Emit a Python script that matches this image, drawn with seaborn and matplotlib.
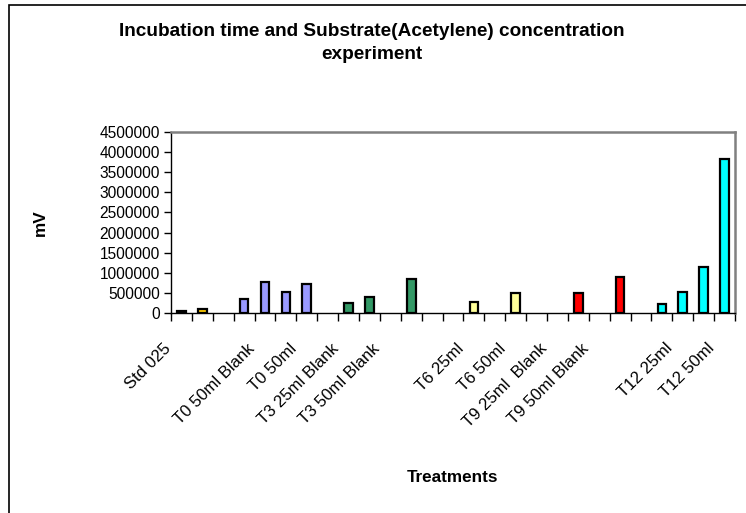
import numpy as np
import pandas as pd
import matplotlib
matplotlib.use("Agg")
import matplotlib.pyplot as plt
import matplotlib.transforms as mtransforms
from matplotlib.patches import Rectangle
import seaborn as sns

# Category order as on the sheet (gaps are empty spreadsheet columns)
categories = ["Std 025", "Std 05", " ",
              "T0 25ml Blank", "T0 50ml Blank", "T0 25ml", "T0 50ml", "  ",
              "T3 25ml Blank", "T3 25ml", "T3 50ml Blank", "T3 50ml", "   ",
              "T6 25ml Blank", "T6 25ml", "T6 50ml Blank", "T6 50ml", "    ",
              "T9 25ml  Blank", "T9 25ml", "T9 50ml Blank", "T9 50ml", "     ",
              "T12 25ml Blank", "T12 25ml", "T12 50ml Blank", "T12 50ml"]
groups = ["Std", "Std05", "gap",
          "T0", "T0", "T0", "T0", "gap",
          "T3", "T3", "T3", "T3", "gap",
          "T6", "T6", "T6", "T6", "gap",
          "T9", "T9", "T9", "T9", "gap",
          "T12", "T12", "T12", "T12"]
values = [50000, 110000, np.nan,
          360000, 775000, 530000, 725000, np.nan,
          250000, 395000, np.nan, 850000, np.nan,
          np.nan, 275000, np.nan, 500000, np.nan,
          np.nan, 500000, np.nan, 905000, np.nan,
          215000, 525000, 1150000, 3840000]
# only every second category gets a label (Excel skipped the rest)
shown_labels = ["Std 025", "", "T0 50ml Blank", "T0 50ml", "T3 25ml Blank",
                "T3 50ml Blank", "", "T6 25ml", "T6 50ml", "T9 25ml  Blank",
                "T9 50ml Blank", "", "T12 25ml", "T12 50ml"]
yticks = [0, 500000, 1000000, 1500000, 2000000, 2500000, 3000000,
          3500000, 4000000, 4500000]

palette = {"Std": "#000000", "Std05": "#FFCC00", "gap": "#FFFFFF",
           "T0": "#9999FF", "T3": "#339966", "T6": "#FFFF99",
           "T9": "#FF0000", "T12": "#00FFFF"}

df = pd.DataFrame({"treatment": categories, "group": groups, "mV": values})

sns.set_theme(style="white")
plt.rcParams["font.family"] = ["Liberation Sans", "DejaVu Sans"]
for key in ["text.color", "axes.labelcolor", "xtick.color", "ytick.color"]:
    plt.rcParams[key] = "black"

fig = plt.figure(figsize=(7.46, 5.13), dpi=100)
ax = fig.add_axes([171 / 746, 1 - 313 / 513, 564 / 746, 181 / 513])

sns.barplot(data=df, x="treatment", y="mV", hue="group", order=categories,
            palette=palette, dodge=False, width=0.42, legend=False,
            saturation=1, edgecolor="black", linewidth=1.6, ax=ax)

ax.set_xlim(-0.5, len(categories) - 0.5)
ax.set_ylim(0, 4500000)
ax.set_yticks(yticks)
ax.set_yticklabels([str(v) for v in yticks], fontsize=11.2)

# tick marks between categories, labels on every other category
ax.set_xticks(np.arange(len(categories) + 1) - 0.5)
ax.set_xticklabels([])
ax.set_xticks(np.arange(0, len(categories), 2), minor=True)
ax.set_xticklabels(shown_labels, minor=True, rotation=45, ha="right",
                   rotation_mode="anchor", fontsize=12)
ax.tick_params(axis="x", which="major", direction="out", length=6,
               width=1, color="black", bottom=True)
ax.tick_params(axis="x", which="minor", length=0, pad=20)
ax.tick_params(axis="y", direction="out", length=5, width=1,
               color="black", left=True, pad=3)
shift = mtransforms.ScaledTranslation(-18 / 100, 0, fig.dpi_scale_trans)
for lbl in ax.get_xticklabels(minor=True):
    lbl.set_transform(lbl.get_transform() + shift)

for side in ["left", "bottom"]:
    ax.spines[side].set_color("black")
    ax.spines[side].set_linewidth(1.0)
for side in ["top", "right"]:
    ax.spines[side].set_color("#808080")
    ax.spines[side].set_linewidth(1.8)

ax.set_xlabel("Treatments", fontsize=12.3, fontweight="bold")
ax.xaxis.set_label_coords(0.5, -0.865)
ax.set_ylabel("mV", fontsize=12.3, fontweight="bold")
ax.yaxis.set_label_coords(-0.218, 0.5)

fig.text(372 / 746, 1 - 43 / 513,
         "Incubation time and Substrate(Acetylene) concentration\nexperiment",
         ha="center", va="center", fontsize=13.7, fontweight="bold",
         linespacing=1.45)

# chart area border (right and bottom edges fall outside the image)
fig.patches.append(Rectangle((9 / 746, -0.05), 1.1, 1 - 5 / 513 + 0.05,
                             transform=fig.transFigure, fill=False,
                             edgecolor="black", linewidth=1.2))

fig.savefig("out.png", dpi=100)
